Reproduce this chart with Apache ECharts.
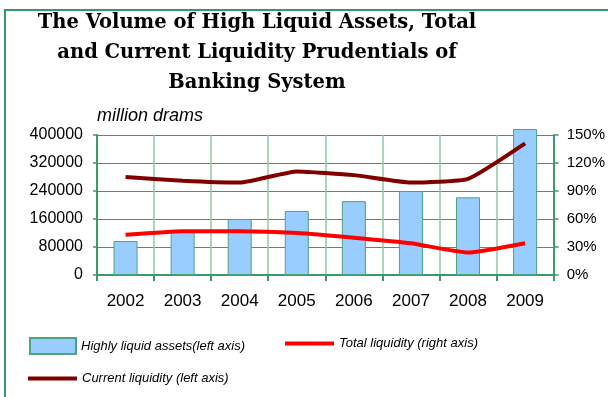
<!DOCTYPE html>
<html>
<head>
<meta charset="utf-8">
<script src="https://cdn.jsdelivr.net/npm/echarts@6/dist/echarts.min.js"></script>
<style>
  html, body { margin: 0; padding: 0; background: #fff; }
  #chart { width: 608px; height: 397px; }
</style>
</head>
<body>
<div id="chart"></div>
<script>
// Years shown on the category axis
const years = ['2002', '2003', '2004', '2005', '2006', '2007', '2008', '2009'];
// Highly liquid assets, million drams (left axis)
const liquidAssets = [97000, 123000, 160000, 183000, 211000, 240000, 222000, 417000];
// Total liquidity prudential, % (right axis)
const totalLiquidity = [43, 47, 47, 45, 40, 34, 24, 34];
// Current liquidity prudential, % (right axis)
const currentLiquidity = [105, 101, 99, 111, 107, 99, 103, 141];
// Axis tick labels
const leftTicks = [0, 80000, 160000, 240000, 320000, 400000];
const rightTicks = [0, 30, 60, 90, 120, 150];

const green = '#339966';
const gridGreen = '#3a9a68';
const vGridGreen = '#8fcaa6';
const legendText = { fontFamily: '"Liberation Sans"', fontStyle: 'italic', fontSize: 13, color: '#000' };

const chart = echarts.init(document.getElementById('chart'));

chart.setOption({
  animation: false,
  backgroundColor: '#fff',
  graphic: [
    {
      type: 'rect',
      shape: { x: 5, y: 10, width: 700, height: 500 },
      style: { fill: 'none', stroke: green, lineWidth: 2 },
      silent: true
    },
    {
      type: 'text',
      x: 257, y: 8,
      style: {
        text: 'The Volume of High Liquid Assets, Total\nand Current Liquidity Prudentials of\nBanking System',
        font: 'bold 19.5px "DejaVu Serif"',
        fill: '#000',
        align: 'center',
        verticalAlign: 'top',
        lineHeight: 30
      }
    },
    {
      type: 'text',
      x: 97, y: 107,
      style: {
        text: 'million drams',
        font: 'italic 18px "Liberation Sans"',
        fill: '#000'
      }
    }
  ],
  grid: { left: 97, right: 53, top: 135, bottom: 122, containLabel: false },
  legend: [
    {
      left: 24, top: 332,
      itemWidth: 46, itemHeight: 16, itemGap: 6,
      data: [{ name: 'Highly liquid assets(left axis)', icon: 'rect' }],
      textStyle: legendText
    },
    {
      left: 280, top: 332,
      itemWidth: 49, itemHeight: 4,
      data: [{ name: 'Total liquidity (right axis)', icon: 'rect' }],
      textStyle: legendText
    },
    {
      left: 23, top: 367,
      itemWidth: 49, itemHeight: 4,
      data: [{ name: 'Current liquidity (left axis)', icon: 'rect' }],
      textStyle: legendText
    }
  ],
  xAxis: {
    type: 'category',
    data: years,
    boundaryGap: true,
    axisLine: { lineStyle: { color: gridGreen, width: 2 } },
    axisTick: { show: true, alignWithLabel: false, length: 6, lineStyle: { color: gridGreen, width: 2 } },
    axisLabel: { fontFamily: '"Liberation Sans"', fontSize: 17, color: '#000', margin: 18 },
    splitLine: { show: true, lineStyle: { color: vGridGreen, width: 1.5 } }
  },
  yAxis: [
    {
      type: 'value',
      min: 0, max: 400000, interval: 80000,
      axisLine: { show: true, lineStyle: { color: gridGreen, width: 2 } },
      axisTick: { show: true, length: 4, lineStyle: { color: gridGreen, width: 1.5 } },
      axisLabel: {
        fontFamily: '"Liberation Sans"', fontSize: 16, color: '#000', margin: 14,
        formatter: v => leftTicks.includes(v) ? String(v) : ''
      },
      splitLine: { show: true, lineStyle: { color: gridGreen, width: 1.2 } }
    },
    {
      type: 'value',
      min: 0, max: 150, interval: 30,
      axisLine: { show: true, lineStyle: { color: gridGreen, width: 2 } },
      axisTick: { show: true, length: 5, lineStyle: { color: gridGreen, width: 1.5 } },
      axisLabel: {
        fontFamily: '"Liberation Sans"', fontSize: 15, color: '#000', margin: 13,
        formatter: v => rightTicks.includes(v) ? v + '%' : ''
      },
      splitLine: { show: false }
    }
  ],
  series: [
    {
      name: 'Highly liquid assets(left axis)',
      type: 'bar',
      yAxisIndex: 0,
      data: liquidAssets,
      barWidth: 24,
      clip: false,
      itemStyle: { color: '#99ccff', borderColor: '#4aa57a', borderWidth: 1 }
    },
    {
      name: 'Total liquidity (right axis)',
      type: 'line',
      yAxisIndex: 1,
      data: totalLiquidity,
      smooth: 0.15,
      symbol: 'none',
      lineStyle: { color: '#ff0000', width: 4 },
      itemStyle: { color: '#ff0000' }
    },
    {
      name: 'Current liquidity (left axis)',
      type: 'line',
      yAxisIndex: 1,
      data: currentLiquidity,
      smooth: 0.15,
      symbol: 'none',
      lineStyle: { color: '#800000', width: 4 },
      itemStyle: { color: '#800000' }
    }
  ]
});
</script>
</body>
</html>
